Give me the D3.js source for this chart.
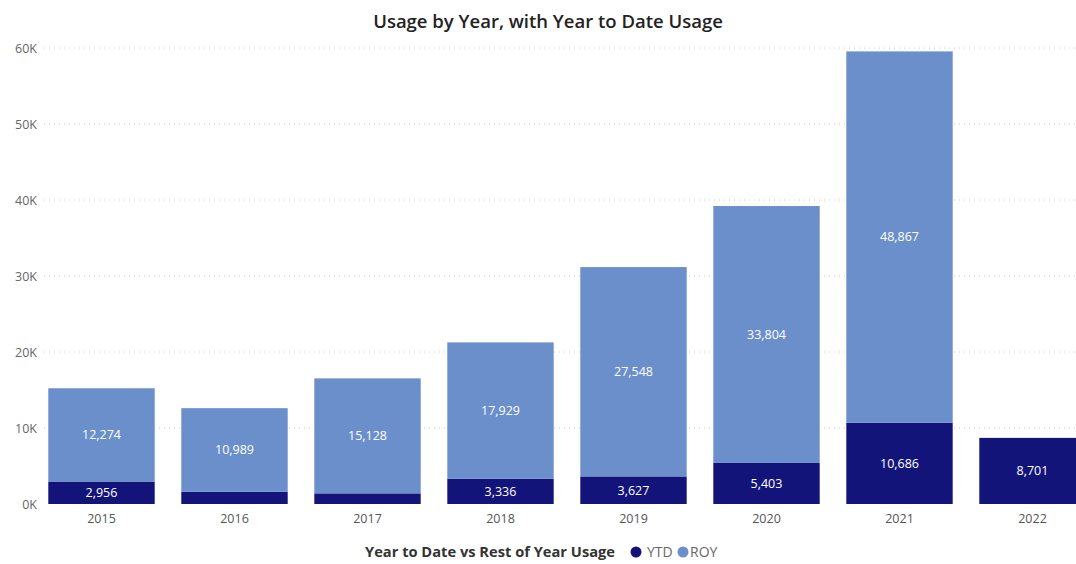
<!DOCTYPE html>
<html><head><meta charset="utf-8">
<script src="https://cdn.jsdelivr.net/npm/d3@7"></script>
<style>body{margin:0;background:#fff;} svg{display:block;}</style>
</head><body>
<svg id="c" width="1076" height="564"></svg>
<script>
const years = ["2015","2016","2017","2018","2019","2020","2021","2022"];
const ytd = [2956, 1620, 1400, 3336, 3627, 5403, 10686, 8701];
const roy = [12274, 10989, 15128, 17929, 27548, 33804, 48867, 0];
const ytdLabels = [true, false, false, true, true, true, true, true];
const yTicks = [0, 10000, 20000, 30000, 40000, 50000, 60000];
const title = "Usage by Year, with Year to Date Usage";
const legendTitle = "Year to Date vs Rest of Year Usage";
const seriesNames = ["YTD", "ROY"];
const colors = {YTD: "#13147a", ROY: "#6a8fca"};

const svg = d3.select("#c");
const font = "'Open Sans', 'Noto Sans', sans-serif";
const x = d3.scaleBand().domain(years).range([35, 1099]).paddingInner(0.2).paddingOuter(0.1);
const y = d3.scaleLinear().domain([0, 60000]).range([504, 48]);

// title
svg.append("text").attr("x", 548).attr("y", 28).attr("text-anchor", "middle")
  .attr("font-family", font).attr("font-size", 18.5).attr("font-weight", 600).attr("fill", "#222")
  .text(title);

// grid
svg.append("g").selectAll("line").data(yTicks.slice(1)).join("line")
  .attr("x1", 44).attr("x2", 1076).attr("y1", d => y(d)).attr("y2", d => y(d))
  .attr("stroke", "#c8c8c8").attr("stroke-width", 1).attr("stroke-dasharray", "1,4");

// y axis labels
const yAxis = svg.append("g").attr("transform", "translate(37,0)")
  .call(d3.axisLeft(y).tickValues(yTicks).tickSize(0).tickPadding(0).tickFormat(d => (d/1000) + "K"));
yAxis.select(".domain").remove();
yAxis.selectAll("text").attr("font-family", font).attr("font-size", 12.5).attr("fill", "#666");

// x axis labels
const xAxis = svg.append("g").attr("transform", "translate(0,512)")
  .call(d3.axisBottom(x).tickSize(0).tickPadding(0));
xAxis.select(".domain").remove();
xAxis.selectAll("text").attr("font-family", font).attr("font-size", 12.5).attr("fill", "#555").attr("dy", "0.9em");

const data = years.map((yr, i) => ({year: yr, YTD: ytd[i], ROY: roy[i], showYtd: ytdLabels[i]}));
const stack = d3.stack().keys(seriesNames)(data);

svg.append("g").selectAll("g").data(stack).join("g")
  .attr("fill", d => colors[d.key])
  .selectAll("rect").data(d => d).join("rect")
  .attr("x", d => x(d.data.year)).attr("width", x.bandwidth())
  .attr("y", d => y(d[1])).attr("height", d => y(d[0]) - y(d[1]));

// labels
const fmt = d3.format(",");
const lbl = svg.append("g").attr("font-family", font).attr("font-size", 12.5).attr("fill", "#fff").attr("text-anchor", "middle");
stack.forEach(s => {
  s.forEach(d => {
    const v = d[1] - d[0];
    if (v <= 0) return;
    if (s.key === "YTD" && !d.data.showYtd) return;
    lbl.append("text").attr("x", x(d.data.year) + x.bandwidth()/2)
      .attr("y", (y(d[0]) + y(d[1]))/2).attr("dy", "0.35em").text(fmt(v));
  });
});

// legend
const lg = svg.append("g").attr("font-family", font).attr("font-size", 14);
lg.append("text").attr("x", 365).attr("y", 557).attr("font-weight", 700).attr("fill", "#333")
  .attr("textLength", 250).attr("lengthAdjust", "spacingAndGlyphs").text(legendTitle);
lg.append("circle").attr("cx", 636).attr("cy", 552).attr("r", 5.5).attr("fill", colors.YTD);
lg.append("text").attr("x", 647).attr("y", 557).attr("fill", "#666").text("YTD");
lg.append("circle").attr("cx", 683).attr("cy", 552).attr("r", 5.5).attr("fill", colors.ROY);
lg.append("text").attr("x", 690).attr("y", 557).attr("fill", "#666").text("ROY");
</script>
</body></html>
